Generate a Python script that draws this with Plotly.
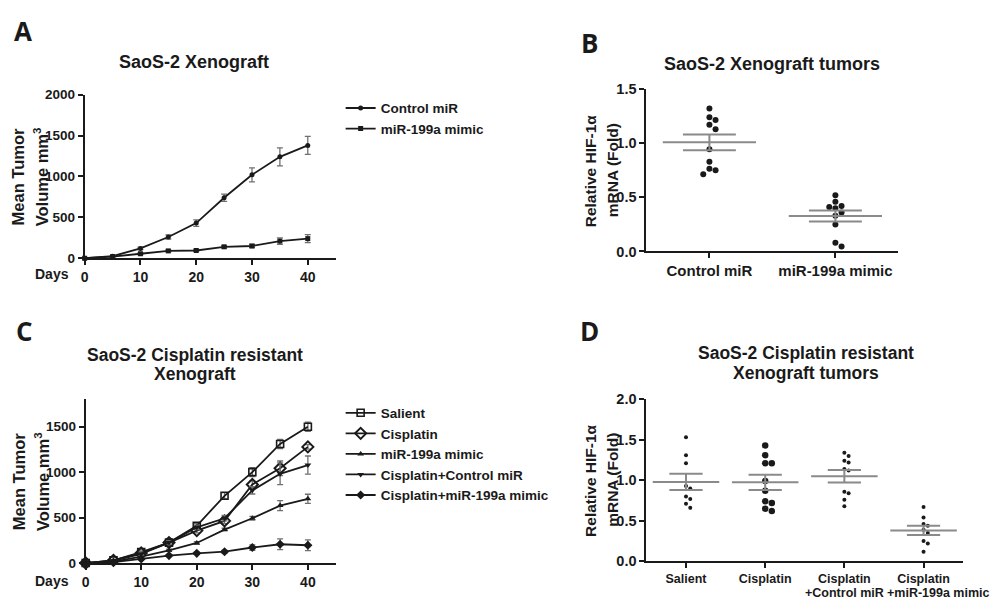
import plotly.graph_objects as go
import numpy as np

W, H = 995, 610

# ---------------- data ----------------
days = [0, 5, 10, 15, 20, 25, 30, 35, 40]

a_control = [0, 25, 120, 260, 430, 740, 1020, 1240, 1380]
a_control_err = [0, 8, 15, 25, 40, 45, 85, 110, 110]
a_mimic = [0, 20, 55, 90, 95, 140, 150, 210, 240]
a_mimic_err = [0, 5, 10, 12, 12, 15, 20, 40, 50]

c_salient = [0, 30, 120, 225, 410, 740, 1000, 1310, 1500]
c_salient_err = [0, 8, 15, 20, 25, 35, 50, 50, 50]
c_cis = [0, 30, 110, 225, 357, 464, 864, 1043, 1278]
c_cis_err = [0, 8, 15, 20, 25, 30, 40, 80, 25]
c_mimic = [0, 15, 70, 140, 221, 368, 493, 632, 707]
c_mimic_err = [0, 5, 10, 12, 15, 15, 20, 55, 50]
c_cis_ctrl = [0, 25, 100, 225, 393, 493, 800, 982, 1078]
c_cis_ctrl_err = [0, 8, 12, 20, 25, 30, 40, 120, 100]
c_cis_mimic = [0, 10, 45, 82, 107, 125, 171, 207, 196]
c_cis_mimic_err = [0, 5, 8, 10, 12, 15, 30, 60, 60]

b_categories = ["Control miR", "miR-199a mimic"]
b_control = [1.32, 1.24, 1.215, 1.17, 1.13, 0.945, 0.83, 0.765, 0.75, 0.714]
b_mimic = [0.52, 0.46, 0.42, 0.41, 0.40, 0.36, 0.33, 0.25, 0.08, 0.045]

d_categories = ["Salient", "Cisplatin", "Cisplatin", "Cisplatin"]
d_subtitles = ["", "", "+Control miR", "+miR-199a mimic"]
d_salient = [1.53, 1.31, 1.21, 0.93, 0.90, 0.80, 0.77, 0.71, 0.66]
d_cis = [1.43, 1.31, 1.21, 1.21, 0.99, 0.87, 0.74, 0.72, 0.65, 0.62]
d_cis_ctrl = [1.34, 1.30, 1.24, 1.22, 1.14, 1.12, 0.86, 0.84, 0.76, 0.68]
d_cis_mimic = [0.67, 0.54, 0.46, 0.44, 0.39, 0.35, 0.25, 0.22, 0.12]

FONT = "Liberation Sans, Arial, sans-serif"
INK = "#1a1a1a"
GREY = "#8a8a8a"


def px(x):
    return x / W


def py(y):
    return 1 - y / H


fig = go.Figure()

# ---- panel geometry (pixels) ----
A_X = (81, 333); A_Y = (257, 89)
B_X = (645, 898); B_Y = (250, 83.3)
C_X = (82, 333); C_Y = (570, 402)
D_X = (645, 963); D_Y = (568.3, 401.7)


def axis_common(tsize=14):
    return dict(showline=True, linecolor=INK, linewidth=2, ticks="outside",
                ticklen=5, tickwidth=1.5, tickcolor=INK, showgrid=False,
                zeroline=False, mirror=False, tickangle=0,
                tickfont=dict(family=FONT, size=tsize, color=INK, weight="bold"))


lay = {}
lay["xaxis"] = dict(domain=[px(A_X[0]), px(A_X[1])], range=[0, 45], tickvals=[0, 10, 20, 30, 40],
                    anchor="y", **axis_common(14))
lay["yaxis"] = dict(domain=[py(A_Y[0]), py(A_Y[1])], range=[0, 2000], tickvals=[0, 500, 1000, 1500, 2000],
                    anchor="x", **axis_common(13.5))
lay["xaxis2"] = dict(domain=[px(B_X[0]), px(B_X[1])], range=[-0.5, 1.5], tickvals=[0, 1],
                     ticktext=b_categories, anchor="y2", **axis_common(15))
lay["yaxis2"] = dict(domain=[py(B_Y[0]), py(B_Y[1])], range=[0, 1.5], tickvals=[0, 0.5, 1.0, 1.5],
                     tickformat=".1f", anchor="x2", **axis_common(14.5))
lay["xaxis3"] = dict(domain=[px(C_X[0]), px(C_X[1])], range=[0, 45], tickvals=[0, 10, 20, 30, 40],
                     anchor="y3", **axis_common(14))
lay["yaxis3"] = dict(domain=[py(C_Y[0]), py(C_Y[1])], range=[0, 1800], tickvals=[0, 500, 1000, 1500],
                     anchor="x3", **axis_common(13.5))
lay["xaxis4"] = dict(domain=[px(D_X[0]), px(D_X[1])], range=[-0.5, 3.5], tickvals=[0, 1, 2, 3],
                     ticktext=d_categories, anchor="y4", **axis_common(12.5))
lay["yaxis4"] = dict(domain=[py(D_Y[0]), py(D_Y[1])], range=[0, 2.0], tickvals=[0, 0.5, 1.0, 1.5, 2.0],
                     tickformat=".1f", anchor="x4", **axis_common(14.5))


def line_trace(x, y, err, name, symbol, size, xa, ya, legend, mline=None, mcolor=INK):
    marker = dict(symbol=symbol, size=size, color=mcolor)
    if mline is not None:
        marker["line"] = dict(color=INK, width=mline)
    return go.Scatter(x=x, y=y, name=name, mode="lines+markers", xaxis=xa, yaxis=ya,
                      line=dict(color=INK, width=1.8), marker=marker, cliponaxis=False,
                      error_y=dict(type="data", array=err, color="#707070", thickness=1.3, width=3),
                      legend=legend)


# Panel A
fig.add_trace(line_trace(days, a_control, a_control_err, "Control miR", "circle", 5, "x", "y", "legend"))
fig.add_trace(line_trace(days, a_mimic, a_mimic_err, "miR-199a mimic", "square", 5, "x", "y", "legend"))

# Panel C
fig.add_trace(line_trace(days, c_salient, c_salient_err, "Salient", "square-open", 7, "x3", "y3", "legend2", mline=1.6))
fig.add_trace(line_trace(days, c_cis, c_cis_err, "Cisplatin", "diamond-open", 8.5, "x3", "y3", "legend2", mline=2))
fig.add_trace(line_trace(days, c_mimic, c_mimic_err, "miR-199a mimic", "triangle-up", 6, "x3", "y3", "legend2"))
fig.add_trace(line_trace(days, c_cis_ctrl, c_cis_ctrl_err, "Cisplatin+Control miR", "triangle-down", 6, "x3", "y3", "legend2"))
fig.add_trace(line_trace(days, c_cis_mimic, c_cis_mimic_err, "Cisplatin+miR-199a mimic", "diamond", 7, "x3", "y3", "legend2"))


# ---- scatter (dot plot) panels ----
def swarm(values, ppx, ppy, diam):
    order = np.argsort(values)[::-1]
    placed = []
    offs = np.zeros(len(values))
    for i in order:
        yv = values[i] * ppy
        for k in [0, 1, -1, 2, -2, 3, -3, 4, -4]:
            dx = k * diam * 0.95
            if all((dx - pxx) ** 2 + (yv - pyy) ** 2 >= (diam * 0.95) ** 2 for pxx, pyy in placed):
                placed.append((dx, yv))
                offs[i] = dx / ppx
                break
    return offs


def dot_group(vals, cat, ppx, ppy, size, xa, ya, mean_half, sem_half):
    vals = np.array(vals, dtype=float)
    offs = swarm(vals, ppx, ppy, size + 0.5)
    fig.add_trace(go.Scatter(x=cat + offs, y=vals, mode="markers", xaxis=xa, yaxis=ya,
                             marker=dict(size=size, color=INK), showlegend=False, cliponaxis=False))
    m = vals.mean()
    sem = vals.std(ddof=1) / np.sqrt(len(vals))
    for (x0, x1, yy) in [(cat - mean_half, cat + mean_half, m),
                         (cat - sem_half, cat + sem_half, m + sem),
                         (cat - sem_half, cat + sem_half, m - sem)]:
        fig.add_shape(type="line", xref=xa, yref=ya, x0=x0, x1=x1, y0=yy, y1=yy,
                      line=dict(color=GREY, width=2))
    fig.add_shape(type="line", xref=xa, yref=ya, x0=cat, x1=cat, y0=m - sem, y1=m + sem,
                  line=dict(color=GREY, width=2))


ppx_B = (B_X[1] - B_X[0]) / 2.0
ppy_B = (B_Y[0] - B_Y[1]) / 1.5
dot_group(b_control, 0, ppx_B, ppy_B, 6, "x2", "y2", 0.37, 0.21)
dot_group(b_mimic, 1, ppx_B, ppy_B, 6, "x2", "y2", 0.37, 0.21)

ppx_D = (D_X[1] - D_X[0]) / 4.0
ppy_D = (D_Y[0] - D_Y[1]) / 2.0
dot_group(d_salient, 0, ppx_D, ppy_D, 4, "x4", "y4", 0.42, 0.21)
dot_group(d_cis, 1, ppx_D, ppy_D, 6.5, "x4", "y4", 0.42, 0.21)
dot_group(d_cis_ctrl, 2, ppx_D, ppy_D, 4, "x4", "y4", 0.42, 0.21)
dot_group(d_cis_mimic, 3, ppx_D, ppy_D, 4, "x4", "y4", 0.42, 0.21)

# ---- annotations ----
ann = []


def text(x, y, s, size, angle=0, family=FONT, xanchor="center"):
    ann.append(dict(x=px(x), y=py(y), xref="paper", yref="paper", text=s, showarrow=False,
                    xanchor=xanchor, yanchor="middle", textangle=angle,
                    font=dict(family=family, size=size, color=INK, weight="bold")))


LETTER = "Liberation Sans Narrow, Open Sans, sans-serif"
text(19, 24, "A", 26, family=LETTER)
text(588, 36, "B", 26, family=LETTER)
text(21, 332, "C", 26, family=LETTER)
text(588, 332, "D", 26, family=LETTER)

text(191, 55, "SaoS-2 Xenograft", 18)
text(771, 58, "SaoS-2 Xenograft tumors", 18)
text(192, 356, "SaoS-2 Cisplatin resistant", 17.5)
text(192, 376, "Xenograft", 17.5)
text(805, 354, "SaoS-2 Cisplatin resistant", 17.5)
text(805, 375, "Xenograft tumors", 17.5)

# second line of the D category labels, placed on the category axis scale
for i, sub in enumerate(d_subtitles):
    if not sub:
        continue
    last = i == len(d_subtitles) - 1
    ann.append(dict(x=i, xref="x4", y=py(601), yref="paper", text=sub, showarrow=False,
                    xanchor="left" if last else "center", xshift=-39 if last else 0,
                    yanchor="middle",
                    font=dict(family=FONT, size=12.5, color=INK, weight="bold")))

# rotated axis titles, one annotation per line
for yc in (173, 486):
    text(15, yc, "Mean Tumor", 16.5, angle=-90)
    text(38, yc, "Volume mm<sup>3</sup>", 16.5, angle=-90)
for yc in (167, 485):
    text(589, yc, "Relative HIF-1α", 15.5, angle=-90)
    text(611, yc, "mRNA (Fold)", 15.5, angle=-90)

text(48, 273, "Days", 14)
text(48, 588, "Days", 14)

legend_font = dict(family=FONT, size=13.5, color=INK, weight="bold")
fig.update_layout(
    width=W, height=H, margin=dict(l=0, r=0, t=0, b=0),
    paper_bgcolor="white", plot_bgcolor="white",
    annotations=ann,
    legend=dict(x=px(338), y=py(87), xanchor="left", yanchor="top", font=legend_font,
                bgcolor="rgba(0,0,0,0)", tracegroupgap=0, itemwidth=30),
    legend2=dict(x=px(338), y=py(400), xanchor="left", yanchor="top", font=legend_font,
                 bgcolor="rgba(0,0,0,0)", tracegroupgap=0, itemwidth=30),
    **lay,
)

fig.write_html(
    "out.html",
    config={"displayModeBar": False},
    post_script=("document.body.style.margin='0';document.body.style.padding='0';"
                 "document.body.style.overflow='hidden';"
                 "document.documentElement.style.overflow='hidden';"),
)
